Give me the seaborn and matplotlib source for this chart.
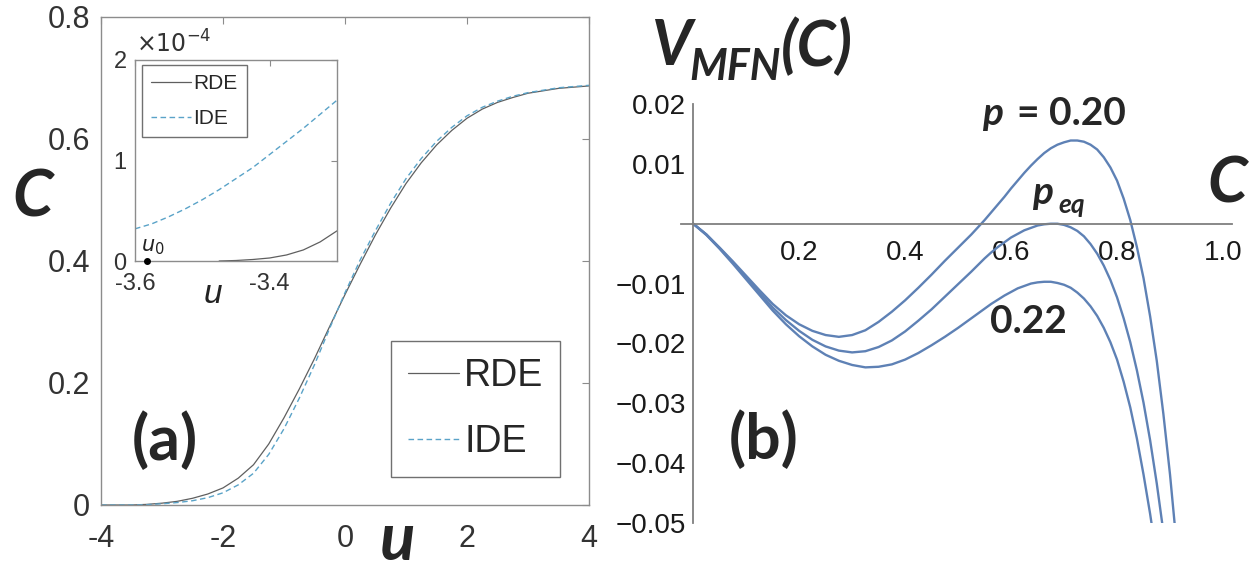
import matplotlib
matplotlib.use("Agg")
import matplotlib.pyplot as plt
from matplotlib.ticker import FixedLocator
import pandas as pd
import seaborn as sns

# ---- panel (a): C(u) for both models ----
u_main = [-4.0, -3.75, -3.5, -3.25, -3.0, -2.75, -2.5, -2.25, -2.0, -1.75, -1.5,
          -1.25, -1.0, -0.75, -0.5, -0.25, 0.0, 0.25, 0.5, 0.75, 1.0, 1.25, 1.5,
          1.75, 2.0, 2.25, 2.5, 2.75, 3.0, 3.25, 3.5, 3.75, 4.0]
c_rde = [0.0, 0.0, 0.0, 0.001, 0.003, 0.006, 0.011, 0.018, 0.028, 0.044, 0.066,
         0.100, 0.143, 0.190, 0.240, 0.293, 0.345, 0.395, 0.443, 0.487, 0.527,
         0.561, 0.590, 0.614, 0.634, 0.649, 0.660, 0.668, 0.675, 0.679, 0.683,
         0.685, 0.687]
c_ide = [0.0, 0.0, 0.0001, 0.0005, 0.002, 0.004, 0.007, 0.012, 0.020, 0.033,
         0.052, 0.083, 0.125, 0.175, 0.230, 0.290, 0.348, 0.402, 0.450, 0.495,
         0.535, 0.568, 0.596, 0.619, 0.638, 0.652, 0.662, 0.670, 0.676, 0.680,
         0.684, 0.686, 0.688]

# inset (values in units of 1e-4)
u_in_ide = [-3.6, -3.575, -3.55, -3.525, -3.5, -3.475, -3.45, -3.425, -3.4,
            -3.375, -3.35, -3.325, -3.3]
c_in_ide = [0.32, 0.37, 0.44, 0.52, 0.61, 0.71, 0.82, 0.93, 1.06, 1.19, 1.32,
            1.46, 1.60]
u_in_rde = [-3.475, -3.45, -3.425, -3.4, -3.375, -3.35, -3.325, -3.3]
c_in_rde = [0.0, 0.005, 0.015, 0.03, 0.06, 0.11, 0.19, 0.30]
u0 = -3.582

# ---- panel (b): V_MFN(C) ----
c_p20 = [0, .025, .05, .075, .1, .125, .15, .175, .2, .225, .25, .275, .3, .325,
         .35, .375, .4, .425, .45, .475, .5, .5125, .525, .5375, .55, .5625, .575,
         .5875, .6, .6125, .625, .6375, .65, .6625, .675, .6875, .7, .7125, .725,
         .7375, .75, .7625, .775, .7875, .8, .8125, .825, .8375, .85, .8625, .875,
         .8875, .9, .915]
v_p20 = [0, -.0018, -.0040, -.0063, -.0087, -.0111, -.0134, -.0153, -.0168,
         -.0179, -.0186, -.0189, -.0186, -.0178, -.0164, -.0147, -.0128, -.0107,
         -.0085, -.0062, -.0040, -.0029, -.0018, -.0006, .0006, .0019, .0032,
         .0045, .0059, .0072, .0085, .0097, .0108, .0118, .0126, .0132, .0136,
         .0139, .0139, .0137, .0132, .0124, .0111, .0094, .0072, .0042, .0006,
         -.0039, -.0091, -.0155, -.0229, -.0318, -.0419, -.0560]
c_peq = [0, .025, .05, .075, .1, .125, .15, .175, .2, .225, .25, .275, .3, .325,
         .35, .375, .4, .425, .45, .475, .5, .525, .55, .5625, .575, .5875, .6,
         .6125, .625, .6375, .65, .6625, .675, .6875, .7, .7125, .725, .7375, .75,
         .7625, .775, .7875, .8, .8125, .825, .8375, .85, .8625, .875, .8875, .9]
v_peq = [0, -.0018, -.0041, -.0065, -.0090, -.0115, -.0140, -.0161, -.0179,
         -.0194, -.0205, -.0212, -.0215, -.0213, -.0206, -.0195, -.0180, -.0162,
         -.0143, -.0122, -.0101, -.0080, -.0058, -.0048, -.0039, -.0031, -.0023,
         -.0017, -.0011, -.0007, -.0003, -.0001, .0, .0, -.0002, -.0006, -.0012,
         -.0021, -.0034, -.0050, -.0070, -.0094, -.0123, -.0158, -.0198, -.0245,
         -.0299, -.0362, -.0434, -.0515, -.0605]
c_p22 = [0, .025, .05, .075, .1, .125, .15, .175, .2, .225, .25, .275, .3, .325,
         .35, .375, .4, .425, .45, .475, .5, .525, .55, .5625, .575, .5875, .6,
         .6125, .625, .6375, .65, .6625, .675, .6875, .7, .7125, .725, .7375, .75,
         .7625, .775, .7875, .8, .8125, .825, .8375, .85, .8625, .875]
v_p22 = [0, -.0019, -.0042, -.0067, -.0093, -.0119, -.0145, -.0168, -.0188,
         -.0205, -.0219, -.0229, -.0236, -.0240, -.0239, -.0235, -.0227, -.0216,
         -.0203, -.0189, -.0174, -.0158, -.0142, -.0134, -.0127, -.0120, -.0114,
         -.0108, -.0104, -.0100, -.0098, -.0097, -.0097, -.0099, -.0102, -.0107,
         -.0115, -.0125, -.0138, -.0154, -.0174, -.0198, -.0227, -.0264, -.0307,
         -.0359, -.0419, -.0485, -.0559]

W, H = 1255, 573


def fx(px):
    return px / W


def fy(py):
    return 1 - py / H


sns.set_style("white")
plt.rcParams["font.family"] = ["Liberation Sans", "DejaVu Sans"]
plt.rcParams["axes.unicode_minus"] = False

fig = plt.figure(figsize=(W / 100, H / 100), dpi=100)

# ================= panel (a) =================
gray_ax = "#8c8c8c"
rde_col = "#5f5f5f"
ide_col = "#5aa3c8"

ax = fig.add_axes([fx(101), fy(505), fx(589) - fx(101), fy(17) - fy(505)])
main_df = pd.DataFrame({"u": u_main, "RDE": c_rde, "IDE": c_ide})
sns.lineplot(data=main_df, x="u", y="RDE", ax=ax, color=rde_col, lw=0.9, label="RDE")
sns.lineplot(data=main_df, x="u", y="IDE", ax=ax, color=ide_col, lw=1.0,
             linestyle=(0, (4, 2.5)), label="IDE")
ax.set_xlim(-4, 4)
ax.set_ylim(0, 0.8)
ax.set_xticks([-4, -2, 0, 2, 4])
ax.set_xticklabels(["-4", "-2", "0", "2", "4"])
ax.set_yticks([0, 0.2, 0.4, 0.6, 0.8])
ax.set_yticklabels(["0", "0.2", "0.4", "0.6", "0.8"])
ax.tick_params(direction="in", top=True, right=True, length=5, width=0.8,
               color=gray_ax, labelsize=22, labelcolor="#333333")
ax.tick_params(axis="x", pad=14)
ax.tick_params(axis="y", pad=8)
for s in ax.spines.values():
    s.set_color(gray_ax)
    s.set_linewidth(1.0)
ax.set_xlabel("")
ax.set_ylabel("")
leg = ax.legend(loc="upper left", bbox_to_anchor=(fx(391), fy(341)),
                bbox_transform=fig.transFigure, borderaxespad=0, fontsize=27,
                frameon=True, fancybox=False, framealpha=1, edgecolor="#707070",
                handlelength=1.35, handletextpad=0.15, labelspacing=0.8,
                borderpad=0.45)
leg.get_frame().set_linewidth(1.0)

# inset
axi = fig.add_axes([fx(135), fy(261), fx(337) - fx(135), fy(60) - fy(261)])
in_ide = pd.DataFrame({"u": u_in_ide, "c": c_in_ide})
in_rde = pd.DataFrame({"u": u_in_rde, "c": c_in_rde})
sns.lineplot(data=in_rde, x="u", y="c", ax=axi, color=rde_col, lw=0.9, label="RDE")
sns.lineplot(data=in_ide, x="u", y="c", ax=axi, color=ide_col, lw=1.0,
             linestyle=(0, (4, 2.5)), label="IDE")
axi.set_xlim(-3.6, -3.3)
axi.set_ylim(0, 2)
axi.set_xticks([-3.6, -3.4])
axi.set_xticklabels(["-3.6", "-3.4"])
axi.set_yticks([0, 1, 2])
axi.set_yticklabels(["0", "1", "2"])
axi.tick_params(direction="in", top=True, right=True, length=4, width=0.8,
                color=gray_ax, labelsize=17, labelcolor="#333333")
axi.tick_params(axis="x", pad=9)
axi.tick_params(axis="y", pad=6)
for s in axi.spines.values():
    s.set_color(gray_ax)
    s.set_linewidth(1.0)
axi.set_xlabel("")
axi.set_ylabel("")
lgi = axi.legend(loc="upper left", bbox_to_anchor=(fx(142), fy(65)),
                 bbox_transform=fig.transFigure, borderaxespad=0, fontsize=15,
                 frameon=True, fancybox=False, framealpha=1, edgecolor="#707070",
                 handlelength=1.9, handletextpad=0.1, labelspacing=0.75,
                 borderpad=0.45)
lgi.get_frame().set_linewidth(1.0)
axi.plot([u0], [0], "o", color="black", ms=4, clip_on=False, zorder=5)
axi.text(-3.591, 0.04, r"$u_0$", fontsize=15, ha="left", va="bottom", color="#222222")
fig.text(fx(136), fy(53), r"$\times10^{-4}$", fontsize=17, color="#333333",
         ha="left", va="baseline")
fig.text(fx(213), fy(303), "u", fontsize=24, style="italic", color="#222222",
         ha="center", va="baseline")

big = dict(family=["Lato", "DejaVu Sans"], weight="bold")
fig.text(fx(12), fy(217), "C", fontsize=47, style="italic", ha="left",
         va="baseline", **big)
fig.text(fx(398), fy(560), "u", fontsize=47, style="italic", ha="center",
         va="baseline", **big)
fig.text(fx(165), fy(441), "(a)", fontsize=45, ha="center", va="center", **big)

# ================= panel (b) =================
line_b = "#5e81b5"
axis_b = "#7f7f7f"
x0, x1 = -0.023, 1.017
axb = fig.add_axes([fx(681), fy(523), fx(1232) - fx(681), fy(104) - fy(523)])
for cc, vv in [(c_p20, v_p20), (c_peq, v_peq), (c_p22, v_p22)]:
    sns.lineplot(x=cc, y=vv, ax=axb, color=line_b, lw=1.7)
axb.set_xlim(x0, x1)
axb.set_ylim(-0.05, 0.02)
axb.spines["left"].set_position(("data", 0))
axb.spines["bottom"].set_position(("data", 0))
axb.spines["top"].set_visible(False)
axb.spines["right"].set_visible(False)
for s in ["left", "bottom"]:
    axb.spines[s].set_color(axis_b)
    axb.spines[s].set_linewidth(1.3)
xmaj = [0.2, 0.4, 0.6, 0.8, 1.0]
ymaj = [-0.05, -0.04, -0.03, -0.02, -0.01, 0.01, 0.02]
axb.xaxis.set_major_locator(FixedLocator(xmaj))
axb.set_xticklabels(["0.2", "0.4", "0.6", "0.8", "1.0"])
axb.xaxis.set_minor_locator(FixedLocator(
    [k * 0.05 for k in range(1, 21) if k % 4 != 0]))
axb.yaxis.set_major_locator(FixedLocator(ymaj))
axb.set_yticklabels(["\u22120.05", "\u22120.04", "\u22120.03", "\u22120.02",
                     "\u22120.01", "0.01", "0.02"])
axb.yaxis.set_minor_locator(FixedLocator(
    [k * 0.002 for k in range(-25, 11) if k % 5 != 0]))
axb.tick_params(which="major", direction="in", length=7, width=1.1,
                color=axis_b, labelsize=20, labelcolor="#1a1a1a")
axb.tick_params(which="minor", direction="in", length=4, width=0.9, color=axis_b)
axb.tick_params(axis="x", which="major", pad=12)
axb.tick_params(axis="y", which="major", pad=5)

fig.text(fx(652), fy(65), "V", fontsize=45, style="italic", ha="left",
         va="baseline", **big)
fig.text(fx(689), fy(80), "MFN", fontsize=31, style="italic", ha="left",
         va="baseline", **big)
fig.text(fx(781), fy(66), "(C)", fontsize=45, style="italic", ha="left",
         va="baseline", **big)
fig.text(fx(1207), fy(203), "C", fontsize=46, style="italic", ha="left",
         va="baseline", **big)
fig.text(fx(982), fy(125), "p", fontsize=28, style="italic", ha="left",
         va="baseline", **big)
fig.text(fx(1017), fy(125), "= 0.20", fontsize=28, ha="left", va="baseline", **big)
fig.text(fx(1032), fy(204), "p", fontsize=28, style="italic", ha="left",
         va="baseline", **big)
fig.text(fx(1058), fy(213), "eq", fontsize=19, style="italic", ha="left",
         va="baseline", **big)
fig.text(fx(990), fy(333), "0.22", fontsize=28, ha="left", va="baseline", **big)
fig.text(fx(764), fy(440), "(b)", fontsize=45, ha="center", va="center", **big)

fig.savefig("out.png", dpi=100)
